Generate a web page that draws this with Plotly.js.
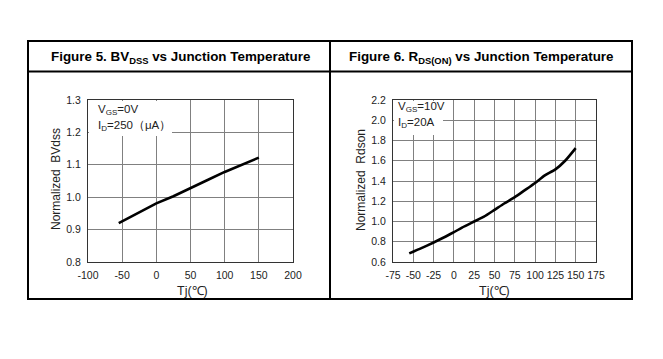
<!DOCTYPE html>
<html>
<head>
<meta charset="utf-8">
<script src="https://cdn.plot.ly/plotly-3.0.1.min.js"></script>
<style>html,body{margin:0;padding:0;background:#fff;}#chart{width:663px;height:359px;}</style>
</head>
<body>
<div id="chart"></div>
<script>
// Figure 5: BVdss vs junction temperature
const bvTemp = [-55, -25, 0, 25, 50, 75, 100, 125, 150];
const bvNorm = [0.920, 0.952, 0.981, 1.003, 1.029, 1.053, 1.078, 1.100, 1.122];
const bvXTicks = [-100, -50, 0, 50, 100, 150, 200];
const bvYTicks = [0.8, 0.9, 1.0, 1.1, 1.2, 1.3];

// Figure 6: Rds(on) vs junction temperature
const rdsTemp = [-55, -40, -25, -10, 0, 10, 25, 37, 50, 62, 75, 87, 100, 112, 125, 137, 150];
const rdsNorm = [0.685, 0.737, 0.793, 0.852, 0.894, 0.940, 1.000, 1.048, 1.115, 1.178, 1.240, 1.307, 1.380, 1.455, 1.515, 1.600, 1.725];
const rdsXTicks = [-75, -50, -25, 0, 25, 50, 75, 100, 125, 150, 175];
const rdsYTicks = [0.6, 0.8, 1.0, 1.2, 1.4, 1.6, 1.8, 2.0, 2.2];

const W = 663, H = 359;
const px = v => v / W;
const py = v => 1 - v / H;

const FONT = 'Liberation Sans, Arial, sans-serif';

const traces = [
  {x: bvTemp, y: bvNorm, xaxis: 'x', yaxis: 'y', mode: 'lines',
   line: {color: '#000', width: 2.6}, hoverinfo: 'skip'},
  {x: rdsTemp, y: rdsNorm, xaxis: 'x2', yaxis: 'y2', mode: 'lines',
   line: {color: '#000', width: 2.6, shape: 'spline', smoothing: 0.6}, hoverinfo: 'skip'}
];

function axisCommon(extra) {
  return Object.assign({
    showgrid: true, gridcolor: '#808080', gridwidth: 1,
    zeroline: false, showline: true, linecolor: '#333', linewidth: 1, mirror: true,
    ticks: '', tickfont: {family: FONT, size: 10.5, color: '#222'},
    fixedrange: true
  }, extra);
}

const layout = {
  width: W, height: H,
  margin: {l: 0, r: 0, t: 0, b: 0},
  paper_bgcolor: '#fff', plot_bgcolor: '#fff',
  showlegend: false,
  xaxis: axisCommon({domain: [px(88), px(293)], range: [-100, 200],
    tickvals: bvXTicks, ticktext: bvXTicks.map(String), anchor: 'y', ticklabelstandoff: 3}),
  yaxis: axisCommon({domain: [py(262), py(100)], range: [0.8, 1.3],
    tickvals: bvYTicks, ticktext: bvYTicks.map(v => v.toFixed(1)), anchor: 'x', ticklabelstandoff: 4}),
  xaxis2: axisCommon({domain: [px(393), px(596)], range: [-75, 175],
    tickvals: rdsXTicks, ticktext: rdsXTicks.map(String), anchor: 'y2', ticklabelstandoff: 3}),
  yaxis2: axisCommon({domain: [py(262), py(100)], range: [0.6, 2.2],
    tickvals: rdsYTicks, ticktext: rdsYTicks.map(v => v.toFixed(1)), anchor: 'x2', ticklabelstandoff: 4}),
  shapes: [
    // table
    {type: 'rect', xref: 'paper', yref: 'paper', x0: px(28), x1: px(632), y0: py(299), y1: py(41),
     line: {color: '#000', width: 2}, layer: 'above'},
    {type: 'line', xref: 'paper', yref: 'paper', x0: px(28), x1: px(632), y0: py(71.5), y1: py(71.5),
     line: {color: '#000', width: 2}, layer: 'above'},
    {type: 'line', xref: 'paper', yref: 'paper', x0: px(330), x1: px(330), y0: py(299), y1: py(41),
     line: {color: '#000', width: 2}, layer: 'above'},
    // legend boxes covering grid
    {type: 'rect', xref: 'paper', yref: 'paper', x0: px(89), x1: px(172), y0: py(136), y1: py(101),
     fillcolor: '#fff', line: {width: 0}, layer: 'above'},
    {type: 'rect', xref: 'paper', yref: 'paper', x0: px(394), x1: px(443), y0: py(135), y1: py(101),
     fillcolor: '#fff', line: {width: 0}, layer: 'above'}
  ],
  annotations: [
    {xref: 'paper', yref: 'paper', x: px(181), y: py(57), xanchor: 'center', yanchor: 'middle', showarrow: false,
     text: '<b>Figure 5. BV<sub>DSS</sub> vs Junction Temperature</b>', font: {family: FONT, size: 13.4, color: '#000'}},
    {xref: 'paper', yref: 'paper', x: px(481), y: py(57), xanchor: 'center', yanchor: 'middle', showarrow: false,
     text: '<b>Figure 6. R<sub>DS(ON)</sub> vs Junction Temperature</b>', font: {family: FONT, size: 13.4, color: '#000'}},
    // axis titles
    {xref: 'paper', yref: 'paper', x: px(56), y: py(179), xanchor: 'center', yanchor: 'middle', showarrow: false,
     textangle: -90, text: 'Normalized  BVdss', font: {family: FONT, size: 12, color: '#222'}},
    {xref: 'paper', yref: 'paper', x: px(192), y: py(291), xanchor: 'center', yanchor: 'middle', showarrow: false,
     text: 'Tj(℃)', font: {family: FONT, size: 12.5, color: '#222'}},
    {xref: 'paper', yref: 'paper', x: px(361), y: py(180), xanchor: 'center', yanchor: 'middle', showarrow: false,
     textangle: -90, text: 'Normalized  Rdson', font: {family: FONT, size: 12, color: '#222'}},
    {xref: 'paper', yref: 'paper', x: px(494), y: py(291), xanchor: 'center', yanchor: 'middle', showarrow: false,
     text: 'Tj(℃)', font: {family: FONT, size: 12.5, color: '#222'}},
    // conditions
    {xref: 'paper', yref: 'paper', x: px(96), y: py(110), xanchor: 'left', yanchor: 'middle', showarrow: false,
     text: 'V<sub>GS</sub>=0V', font: {family: FONT, size: 11.5, color: '#222'}},
    {xref: 'paper', yref: 'paper', x: px(96), y: py(126), xanchor: 'left', yanchor: 'middle', showarrow: false,
     text: 'I<sub>D</sub>=250（μA）', font: {family: FONT, size: 11.5, color: '#222'}},
    {xref: 'paper', yref: 'paper', x: px(396), y: py(107), xanchor: 'left', yanchor: 'middle', showarrow: false,
     text: 'V<sub>GS</sub>=10V', font: {family: FONT, size: 11.5, color: '#222'}},
    {xref: 'paper', yref: 'paper', x: px(396), y: py(123), xanchor: 'left', yanchor: 'middle', showarrow: false,
     text: 'I<sub>D</sub>=20A', font: {family: FONT, size: 11.5, color: '#222'}}
  ]
};

Plotly.newPlot('chart', traces, layout, {staticPlot: true, displayModeBar: false});
</script>
</body>
</html>
